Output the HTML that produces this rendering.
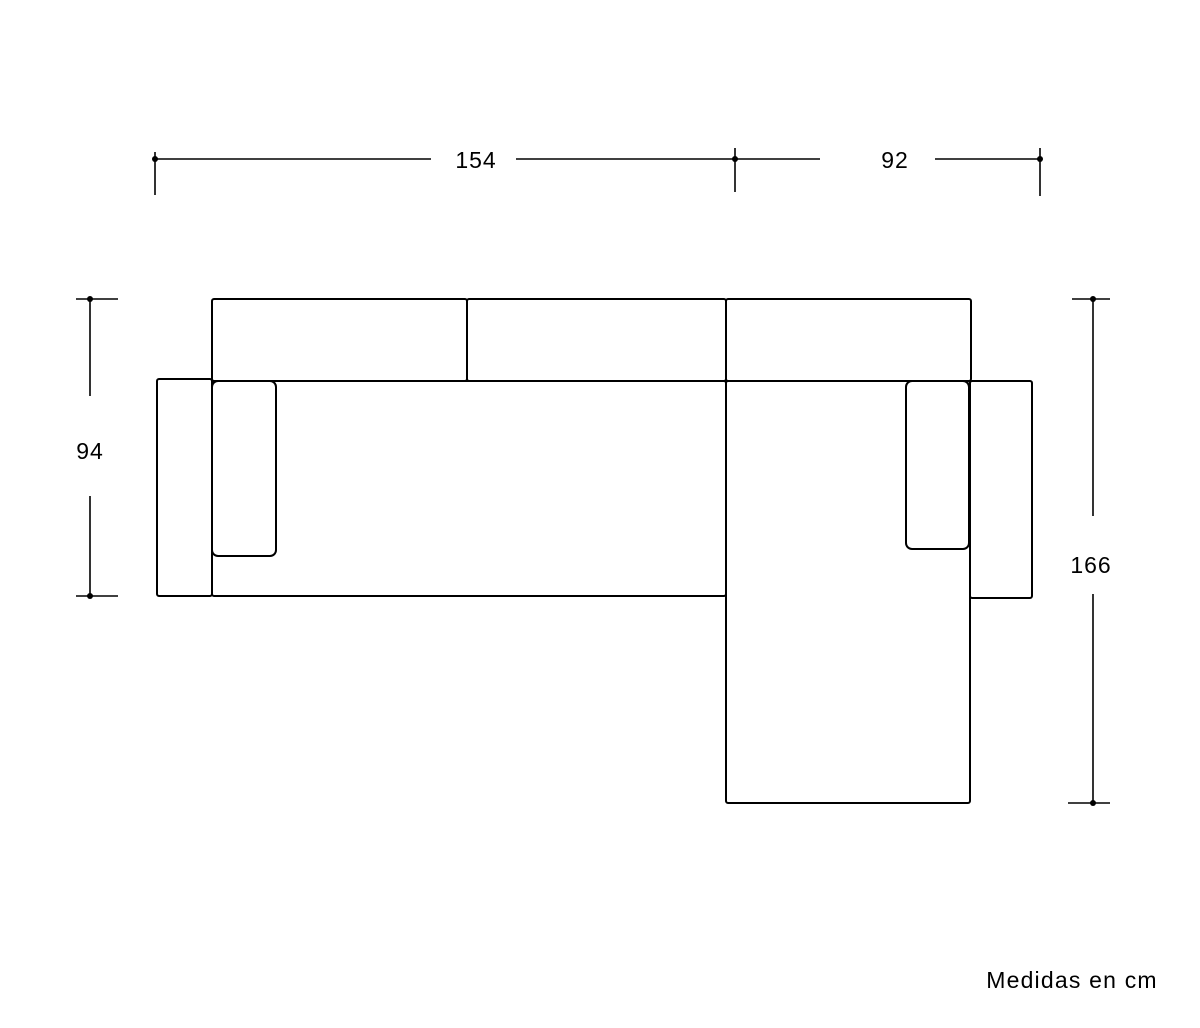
<!DOCTYPE html>
<html><head><style>html,body{margin:0;padding:0;background:#fff}svg{display:block}</style></head><body>
<svg width="1200" height="1028" viewBox="0 0 1200 1028" xmlns="http://www.w3.org/2000/svg">
<g stroke="#000" stroke-width="1.6" fill="none">
<line x1="155" y1="159" x2="431" y2="159"/>
<line x1="516" y1="159" x2="735" y2="159"/>
<line x1="735" y1="159" x2="820" y2="159"/>
<line x1="935" y1="159" x2="1040" y2="159"/>
<line x1="155" y1="152" x2="155" y2="195"/>
<line x1="735" y1="148" x2="735" y2="192"/>
<line x1="1040" y1="148" x2="1040" y2="196"/>
<line x1="90" y1="299" x2="90" y2="396"/>
<line x1="90" y1="496" x2="90" y2="596"/>
<line x1="76" y1="299" x2="118" y2="299"/>
<line x1="76" y1="596" x2="118" y2="596"/>
<line x1="1093" y1="299" x2="1093" y2="516"/>
<line x1="1093" y1="594" x2="1093" y2="803"/>
<line x1="1072" y1="299" x2="1110" y2="299"/>
<line x1="1068" y1="803" x2="1110" y2="803"/>
</g>
<g fill="#000">
<circle cx="155" cy="159" r="3"/><circle cx="735" cy="159" r="3"/><circle cx="1040" cy="159" r="3"/>
<circle cx="90" cy="299" r="3"/><circle cx="90" cy="596" r="3"/>
<circle cx="1093" cy="299" r="3"/><circle cx="1093" cy="803" r="3"/>
</g>
<g stroke="#000" stroke-width="2" fill="none">
<rect x="212" y="299" width="255" height="82" rx="2"/>
<rect x="467" y="299" width="259" height="82" rx="2"/>
<rect x="726" y="299" width="245" height="82" rx="2"/>
<rect x="157" y="379" width="55" height="217" rx="2"/>
<rect x="212" y="381" width="514" height="215" rx="2"/>
<rect x="212" y="381" width="64" height="175" rx="6"/>
<rect x="726" y="381" width="244" height="422" rx="2"/>
<rect x="906" y="381" width="63" height="168" rx="6"/>
<rect x="970" y="381" width="62" height="217" rx="2"/>
</g>
<g font-family="Liberation Sans, sans-serif" font-size="23" fill="#000" text-anchor="middle">
<text x="476" y="168" letter-spacing="1">154</text>
<text x="895" y="168" letter-spacing="1">92</text>
<text x="90" y="459" letter-spacing="1">94</text>
<text x="1091" y="573" letter-spacing="1">166</text>
<text x="1072" y="988" font-size="23" letter-spacing="1.2">Medidas en cm</text>
</g>
</svg>
</body></html>
